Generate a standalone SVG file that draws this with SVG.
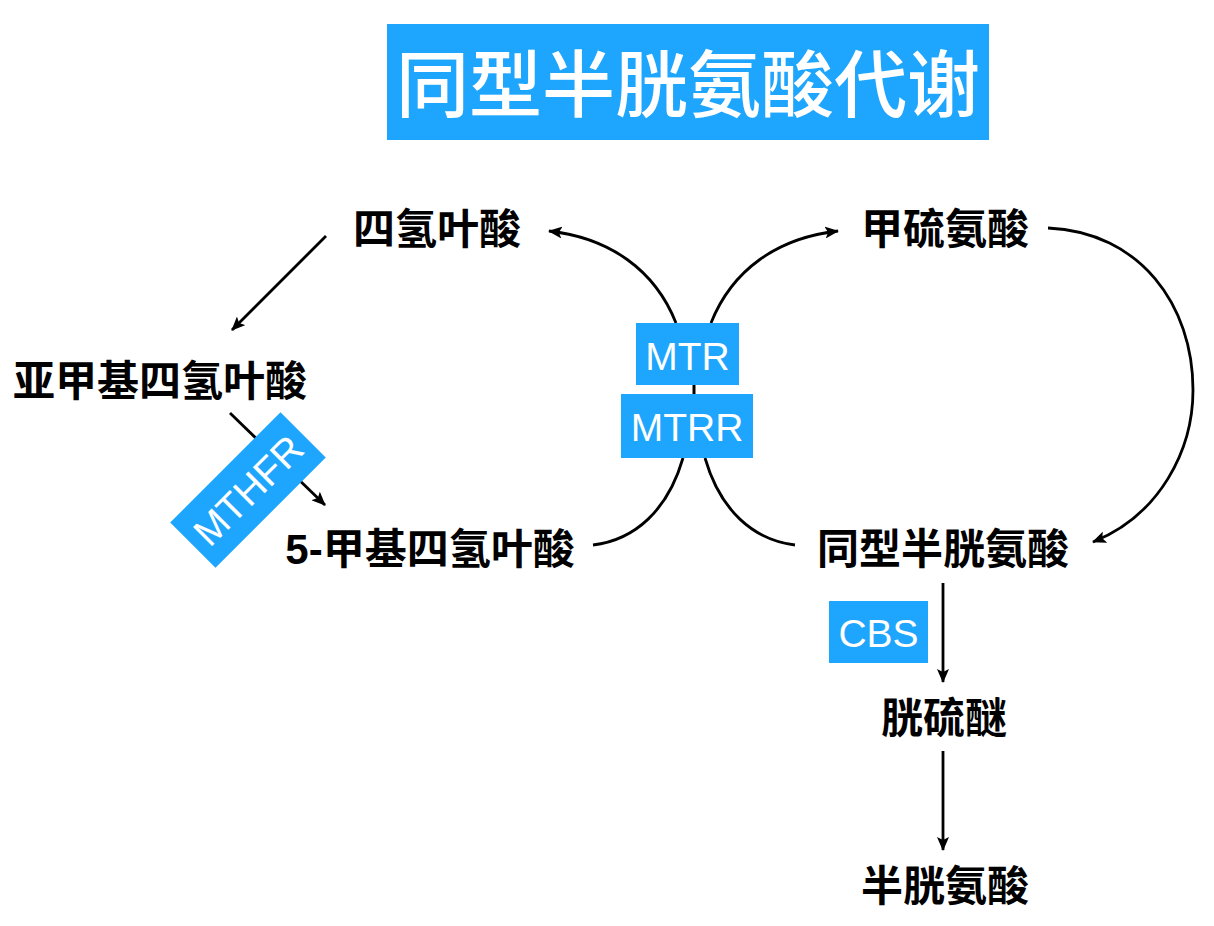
<svg xmlns="http://www.w3.org/2000/svg" width="1214" height="926" viewBox="0 0 1214 926">
<style>
.lbl{font-family:"Liberation Sans","Noto Sans CJK SC",sans-serif;font-weight:bold;font-size:42px;fill:#000;text-anchor:middle}
.enz{fill:#1EA5FD}
.et{font-family:"Liberation Sans",Arial,sans-serif;font-size:39px;fill:#fff;text-anchor:middle}
.c{fill:none;stroke:#000;stroke-width:2.8}
</style>
<defs>
<marker id="ah" viewBox="0 0 14 12" markerWidth="14" markerHeight="12" refX="13" refY="6" orient="auto" markerUnits="userSpaceOnUse">
<path d="M0,0 L14,6 L0,12 L3,6 z" fill="#000"/>
</marker>
</defs>
<rect width="1214" height="926" fill="#fff"/>
<g id="title">
<rect x="387" y="24" width="602" height="116" fill="#1EA5FD"/>
<text x="688" y="111" font-family="'Noto Sans CJK SC',sans-serif" font-weight="500" font-size="73" fill="#fff" text-anchor="middle">同型半胱氨酸代谢</text>
</g>
<g id="connectors">
<line class="c" x1="326" y1="236" x2="232" y2="330" marker-end="url(#ah)"/>
<line class="c" x1="230" y1="413" x2="325" y2="505" marker-end="url(#ah)"/>
<path class="c" d="M676,323 C655,270 610,238 549,231" marker-end="url(#ah)"/>
<path class="c" d="M711,323 C732,270 777,238 838,231" marker-end="url(#ah)"/>
<path class="c" d="M683,458 C668,510 635,540 593,545"/>
<path class="c" d="M705,458 C720,510 753,540 795,545"/>
<line x1="694" y1="385" x2="694" y2="394" stroke="#000" stroke-width="3"/>
<path class="c" d="M1048,228 C1140,232 1193,305 1193,390 C1193,450 1160,515 1093,542" marker-end="url(#ah)"/>
<line class="c" x1="943" y1="583" x2="943" y2="682" marker-end="url(#ah)"/>
<line class="c" x1="943" y1="751" x2="943" y2="850" marker-end="url(#ah)"/>
</g>
<g id="n-thf"><text class="lbl" x="437" y="244">四氢叶酸</text></g>
<g id="n-met"><text class="lbl" x="945" y="244">甲硫氨酸</text></g>
<g id="n-methylene"><text class="lbl" x="160" y="396">亚甲基四氢叶酸</text></g>
<g id="n-5mthf"><text class="lbl" x="430" y="564">5-甲基四氢叶酸</text></g>
<g id="n-hcy"><text class="lbl" x="943" y="564">同型半胱氨酸</text></g>
<g id="n-cysta"><text class="lbl" x="944" y="733">胱硫醚</text></g>
<g id="n-cys"><text class="lbl" x="945" y="901">半胱氨酸</text></g>
<g id="e-mthfr" transform="translate(248,490) rotate(-45)">
<rect class="enz" x="-78" y="-32" width="156" height="64"/>
<text class="et" x="0" y="14">MTHFR</text>
</g>
<g id="e-mtr">
<rect class="enz" x="636" y="323" width="103" height="62"/>
<text class="et" x="687.5" y="370">MTR</text>
</g>
<g id="e-mtrr">
<rect class="enz" x="621" y="394" width="132" height="64"/>
<text class="et" x="687" y="441">MTRR</text>
</g>
<g id="e-cbs">
<rect class="enz" x="829" y="601" width="99" height="62"/>
<text class="et" x="878.5" y="647">CBS</text>
</g>
</svg>
